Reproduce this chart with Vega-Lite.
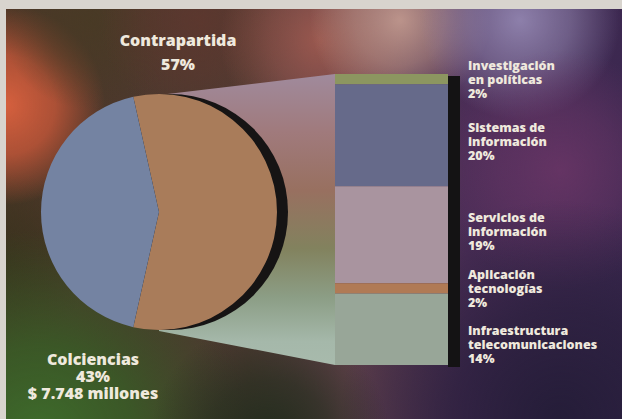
{
  "$schema": "https://vega.github.io/schema/vega-lite/v6.json",
  "width": 622,
  "height": 419,
  "autosize": {"type": "fit", "contains": "padding"},
  "padding": 0,
  "background": "#3a2a40",
  "config": {"view": {"stroke": null}, "text": {"font": "Open Sans", "fontWeight": 800, "color": "#efe9dd", "lineBreak": "\n", "baseline": "alphabetic"}},
  "resolve": {"scale": {"y": "independent", "color": "independent"}},
  "layer": [
    {
      "data": {"values": [{"capa": "fondo"}]},
      "mark": {"type": "rect", "fill": {"gradient": "linear", "x1": 0, "y1": 0, "x2": 1, "y2": 0, "stops": [
        {"offset": 0, "color": "#4a3626"}, {"offset": 0.4, "color": "#4e3a32"}, {"offset": 0.55, "color": "#5e4048"}, {"offset": 0.75, "color": "#4a2d56"}, {"offset": 1, "color": "#3c2850"}]}},
      "encoding": {
        "x": {"datum": 0, "type": "quantitative", "scale": {"domain": [0, 622], "nice": false, "zero": false}, "axis": null},
        "x2": {"datum": 622},
        "y": {"datum": 0, "type": "quantitative", "scale": {"domain": [0, 419], "reverse": true, "nice": false, "zero": false}, "axis": null},
        "y2": {"datum": 419}
      }
    },
    {
      "data": {"values": [{"capa": "oliva izquierda"}]},
      "mark": {"type": "rect", "clip": true, "fill": {"gradient": "radial", "x1": 0.5, "y1": 0.5, "r1": 0, "x2": 0.5, "y2": 0.5, "r2": 0.5, "stops": [
        {"offset": 0, "color": "rgba(55,50,28,0.85)"}, {"offset": 0.5, "color": "rgba(55,50,28,0.5)"}, {"offset": 1, "color": "rgba(55,50,28,0)"}]}},
      "encoding": {
        "x": {"datum": -90, "type": "quantitative", "scale": {"domain": [0, 622], "nice": false, "zero": false}, "axis": null},
        "x2": {"datum": 90},
        "y": {"datum": 170, "type": "quantitative", "scale": {"domain": [0, 419], "reverse": true, "nice": false, "zero": false}, "axis": null},
        "y2": {"datum": 350}
      }
    },
    {
      "data": {"values": [{"capa": "rojo"}]},
      "mark": {"type": "rect", "clip": true, "fill": {"gradient": "radial", "x1": 0.5, "y1": 0.5, "r1": 0, "x2": 0.5, "y2": 0.5, "r2": 0.5, "stops": [
        {"offset": 0, "color": "rgba(214,96,62,1)"}, {"offset": 0.5, "color": "rgba(200,88,58,0.78)"}, {"offset": 1, "color": "rgba(200,85,55,0)"}]}},
      "encoding": {
        "x": {"datum": -95, "type": "quantitative", "scale": {"domain": [0, 622], "nice": false, "zero": false}, "axis": null},
        "x2": {"datum": 105},
        "y": {"datum": 5, "type": "quantitative", "scale": {"domain": [0, 419], "reverse": true, "nice": false, "zero": false}, "axis": null},
        "y2": {"datum": 205}
      }
    },
    {
      "data": {"values": [{"capa": "oliva arriba"}]},
      "mark": {"type": "rect", "clip": true, "fill": {"gradient": "radial", "x1": 0.5, "y1": 0.5, "r1": 0, "x2": 0.5, "y2": 0.5, "r2": 0.5, "stops": [
        {"offset": 0, "color": "rgba(72,58,36,0.85)"}, {"offset": 0.5, "color": "rgba(72,58,36,0.5)"}, {"offset": 1, "color": "rgba(72,58,36,0)"}]}},
      "encoding": {
        "x": {"datum": 0, "type": "quantitative", "scale": {"domain": [0, 622], "nice": false, "zero": false}, "axis": null},
        "x2": {"datum": 180},
        "y": {"datum": -70, "type": "quantitative", "scale": {"domain": [0, 419], "reverse": true, "nice": false, "zero": false}, "axis": null},
        "y2": {"datum": 110}
      }
    },
    {
      "data": {"values": [{"capa": "granate"}]},
      "mark": {"type": "rect", "clip": true, "fill": {"gradient": "radial", "x1": 0.5, "y1": 0.5, "r1": 0, "x2": 0.5, "y2": 0.5, "r2": 0.5, "stops": [
        {"offset": 0, "color": "rgba(95,55,46,0.8)"}, {"offset": 0.5, "color": "rgba(95,55,46,0.5)"}, {"offset": 1, "color": "rgba(95,55,46,0)"}]}},
      "encoding": {
        "x": {"datum": 100, "type": "quantitative", "scale": {"domain": [0, 622], "nice": false, "zero": false}, "axis": null},
        "x2": {"datum": 300},
        "y": {"datum": -80, "type": "quantitative", "scale": {"domain": [0, 419], "reverse": true, "nice": false, "zero": false}, "axis": null},
        "y2": {"datum": 120}
      }
    },
    {
      "data": {"values": [{"capa": "rojizo"}]},
      "mark": {"type": "rect", "clip": true, "fill": {"gradient": "radial", "x1": 0.5, "y1": 0.5, "r1": 0, "x2": 0.5, "y2": 0.5, "r2": 0.5, "stops": [
        {"offset": 0, "color": "rgba(165,92,80,0.85)"}, {"offset": 0.5, "color": "rgba(160,90,80,0.5)"}, {"offset": 1, "color": "rgba(160,90,80,0)"}]}},
      "encoding": {
        "x": {"datum": 220, "type": "quantitative", "scale": {"domain": [0, 622], "nice": false, "zero": false}, "axis": null},
        "x2": {"datum": 420},
        "y": {"datum": -60, "type": "quantitative", "scale": {"domain": [0, 419], "reverse": true, "nice": false, "zero": false}, "axis": null},
        "y2": {"datum": 140}
      }
    },
    {
      "data": {"values": [{"capa": "rosa"}]},
      "mark": {"type": "rect", "clip": true, "fill": {"gradient": "radial", "x1": 0.5, "y1": 0.5, "r1": 0, "x2": 0.5, "y2": 0.5, "r2": 0.5, "stops": [
        {"offset": 0, "color": "rgba(192,152,142,0.95)"}, {"offset": 0.5, "color": "rgba(185,145,135,0.6)"}, {"offset": 1, "color": "rgba(185,145,135,0)"}]}},
      "encoding": {
        "x": {"datum": 310, "type": "quantitative", "scale": {"domain": [0, 622], "nice": false, "zero": false}, "axis": null},
        "x2": {"datum": 490},
        "y": {"datum": -70, "type": "quantitative", "scale": {"domain": [0, 419], "reverse": true, "nice": false, "zero": false}, "axis": null},
        "y2": {"datum": 110}
      }
    },
    {
      "data": {"values": [{"capa": "lavanda"}]},
      "mark": {"type": "rect", "clip": true, "fill": {"gradient": "radial", "x1": 0.5, "y1": 0.5, "r1": 0, "x2": 0.5, "y2": 0.5, "r2": 0.5, "stops": [
        {"offset": 0, "color": "rgba(145,132,175,0.95)"}, {"offset": 0.5, "color": "rgba(140,128,170,0.6)"}, {"offset": 1, "color": "rgba(140,128,170,0)"}]}},
      "encoding": {
        "x": {"datum": 420, "type": "quantitative", "scale": {"domain": [0, 622], "nice": false, "zero": false}, "axis": null},
        "x2": {"datum": 620},
        "y": {"datum": -80, "type": "quantitative", "scale": {"domain": [0, 419], "reverse": true, "nice": false, "zero": false}, "axis": null},
        "y2": {"datum": 120}
      }
    },
    {
      "data": {"values": [{"capa": "magenta"}]},
      "mark": {"type": "rect", "clip": true, "fill": {"gradient": "radial", "x1": 0.5, "y1": 0.5, "r1": 0, "x2": 0.5, "y2": 0.5, "r2": 0.5, "stops": [
        {"offset": 0, "color": "rgba(112,55,105,0.75)"}, {"offset": 0.5, "color": "rgba(110,55,105,0.45)"}, {"offset": 1, "color": "rgba(110,55,105,0)"}]}},
      "encoding": {
        "x": {"datum": 440, "type": "quantitative", "scale": {"domain": [0, 622], "nice": false, "zero": false}, "axis": null},
        "x2": {"datum": 680},
        "y": {"datum": 50, "type": "quantitative", "scale": {"domain": [0, 419], "reverse": true, "nice": false, "zero": false}, "axis": null},
        "y2": {"datum": 290}
      }
    },
    {
      "data": {"values": [{"capa": "purpura oscuro"}]},
      "mark": {"type": "rect", "clip": true, "fill": {"gradient": "radial", "x1": 0.5, "y1": 0.5, "r1": 0, "x2": 0.5, "y2": 0.5, "r2": 0.5, "stops": [
        {"offset": 0, "color": "rgba(35,28,55,0.95)"}, {"offset": 0.5, "color": "rgba(35,28,55,0.6)"}, {"offset": 1, "color": "rgba(35,28,55,0)"}]}},
      "encoding": {
        "x": {"datum": 340, "type": "quantitative", "scale": {"domain": [0, 622], "nice": false, "zero": false}, "axis": null},
        "x2": {"datum": 780},
        "y": {"datum": 200, "type": "quantitative", "scale": {"domain": [0, 419], "reverse": true, "nice": false, "zero": false}, "axis": null},
        "y2": {"datum": 640}
      }
    },
    {
      "data": {"values": [{"capa": "verde"}]},
      "mark": {"type": "rect", "clip": true, "fill": {"gradient": "radial", "x1": 0.5, "y1": 0.5, "r1": 0, "x2": 0.5, "y2": 0.5, "r2": 0.5, "stops": [
        {"offset": 0, "color": "rgba(62,110,44,1)"}, {"offset": 0.45, "color": "rgba(55,95,38,0.8)"}, {"offset": 1, "color": "rgba(50,85,35,0)"}]}},
      "encoding": {
        "x": {"datum": -170, "type": "quantitative", "scale": {"domain": [0, 622], "nice": false, "zero": false}, "axis": null},
        "x2": {"datum": 250},
        "y": {"datum": 230, "type": "quantitative", "scale": {"domain": [0, 419], "reverse": true, "nice": false, "zero": false}, "axis": null},
        "y2": {"datum": 650}
      }
    },
    {
      "data": {"values": [{"capa": "verde oscuro"}]},
      "mark": {"type": "rect", "clip": true, "fill": {"gradient": "radial", "x1": 0.5, "y1": 0.5, "r1": 0, "x2": 0.5, "y2": 0.5, "r2": 0.5, "stops": [
        {"offset": 0, "color": "rgba(32,44,28,0.95)"}, {"offset": 0.5, "color": "rgba(32,44,28,0.6)"}, {"offset": 1, "color": "rgba(32,44,28,0)"}]}},
      "encoding": {
        "x": {"datum": 150, "type": "quantitative", "scale": {"domain": [0, 622], "nice": false, "zero": false}, "axis": null},
        "x2": {"datum": 390},
        "y": {"datum": 320, "type": "quantitative", "scale": {"domain": [0, 419], "reverse": true, "nice": false, "zero": false}, "axis": null},
        "y2": {"datum": 560}
      }
    },
    {
      "data": {"values": [{"capa": "borde"}]},
      "mark": {"type": "rect", "fill": "#d8d4ce"},
      "encoding": {
        "x": {"datum": 0, "type": "quantitative", "scale": {"domain": [0, 622], "nice": false, "zero": false}, "axis": null},
        "x2": {"datum": 622},
        "y": {"datum": 0, "type": "quantitative", "scale": {"domain": [0, 419], "reverse": true, "nice": false, "zero": false}, "axis": null},
        "y2": {"datum": 9}
      }
    },
    {
      "data": {"values": [{"capa": "borde"}]},
      "mark": {"type": "rect", "fill": "#d8d4ce"},
      "encoding": {
        "x": {"datum": 0, "type": "quantitative", "scale": {"domain": [0, 622], "nice": false, "zero": false}, "axis": null},
        "x2": {"datum": 6},
        "y": {"datum": 0, "type": "quantitative", "scale": {"domain": [0, 419], "reverse": true, "nice": false, "zero": false}, "axis": null},
        "y2": {"datum": 419}
      }
    },
    {
      "data": {"values": [{"extremo": "torta", "x": 159, "arriba": 95, "abajo": 331}, {"extremo": "barra", "x": 335, "arriba": 74, "abajo": 365}]},
      "mark": {"type": "area", "orient": "vertical", "fill": {"gradient": "linear", "x1": 0, "y1": 0, "x2": 0, "y2": 1, "stops": [
        {"offset": 0, "color": "#a08a9c"}, {"offset": 0.2, "color": "#a07a7c"}, {"offset": 0.4, "color": "#987060"}, {"offset": 0.6, "color": "#82825e"}, {"offset": 0.77, "color": "#8c9e86"}, {"offset": 0.92, "color": "#a5b8aa"}, {"offset": 1, "color": "#a8baac"}]}},
      "encoding": {
        "x": {"field": "x", "type": "quantitative", "scale": {"domain": [0, 622], "nice": false, "zero": false}, "axis": null},
        "y": {"field": "arriba", "type": "quantitative", "scale": {"domain": [0, 419], "reverse": true, "nice": false, "zero": false}, "axis": null},
        "y2": {"field": "abajo"}
      }
    },
    {
      "data": {"values": [{"capa": "sombra"}]},
      "mark": {"type": "arc", "outerRadius": 118, "theta": 0, "theta2": 6.2832, "fill": "#161414"},
      "encoding": {
        "x": {"datum": 170, "type": "quantitative", "scale": {"domain": [0, 622], "nice": false, "zero": false}, "axis": null},
        "y": {"datum": 212, "type": "quantitative", "scale": {"domain": [0, 419], "reverse": true, "nice": false, "zero": false}, "axis": null}
      }
    },
    {
      "data": {"values": [{"fuente": "Contrapartida", "pct": 57, "orden": 1}, {"fuente": "Colciencias", "pct": 43, "orden": 2}]},
      "mark": {"type": "arc", "outerRadius": 118},
      "encoding": {
        "theta": {"field": "pct", "type": "quantitative", "stack": true, "scale": {"range": [-0.2199, 6.0633]}},
        "order": {"field": "orden", "type": "quantitative"},
        "color": {"field": "fuente", "type": "nominal", "scale": {"domain": ["Contrapartida", "Colciencias"], "range": ["#a97c5a", "#7483a2"]}, "legend": null},
        "x": {"datum": 159, "type": "quantitative", "scale": {"domain": [0, 622], "nice": false, "zero": false}, "axis": null},
        "y": {"datum": 212, "type": "quantitative", "scale": {"domain": [0, 419], "reverse": true, "nice": false, "zero": false}, "axis": null}
      }
    },
    {
      "data": {"values": [{"capa": "sombra barra"}]},
      "mark": {"type": "rect", "fill": "#141314"},
      "encoding": {
        "x": {"datum": 448, "type": "quantitative", "scale": {"domain": [0, 622], "nice": false, "zero": false}, "axis": null},
        "x2": {"datum": 460},
        "y": {"datum": 76, "type": "quantitative", "scale": {"domain": [0, 419], "reverse": true, "nice": false, "zero": false}, "axis": null},
        "y2": {"datum": 367}
      }
    },
    {
      "data": {"values": [
        {"rubro": "Investigación en políticas", "pct": 2, "orden": 1},
        {"rubro": "Sistemas de información", "pct": 20, "orden": 2},
        {"rubro": "Servicios de información", "pct": 19, "orden": 3},
        {"rubro": "Aplicación tecnologías", "pct": 2, "orden": 4},
        {"rubro": "Infraestructura telecomunicaciones", "pct": 14, "orden": 5}
      ]},
      "transform": [{"stack": "pct", "groupby": [], "sort": [{"field": "orden", "order": "ascending"}], "as": ["p0", "p1"]}],
      "mark": {"type": "rect"},
      "encoding": {
        "x": {"datum": 335, "type": "quantitative", "scale": {"domain": [0, 622], "nice": false, "zero": false}, "axis": null},
        "x2": {"datum": 448},
        "y": {"field": "p0", "type": "quantitative", "scale": {"domain": [0, 57], "range": [74, 365], "nice": false, "zero": false}, "axis": null},
        "y2": {"field": "p1"},
        "color": {"field": "rubro", "type": "nominal", "scale": {
          "domain": ["Investigación en políticas", "Sistemas de información", "Servicios de información", "Aplicación tecnologías", "Infraestructura telecomunicaciones"],
          "range": ["#8c9660", "#666a8a", "#a9949f", "#b07a55", "#98a698"]}, "legend": null}
      }
    },
    {
      "data": {"values": [{"texto": "Contrapartida\n57%"}]},
      "mark": {"type": "text", "fontSize": 16, "lineHeight": 24, "align": "center"},
      "encoding": {
        "text": {"field": "texto", "type": "nominal"},
        "x": {"datum": 178, "type": "quantitative", "scale": {"domain": [0, 622], "nice": false, "zero": false}, "axis": null},
        "y": {"datum": 46, "type": "quantitative", "scale": {"domain": [0, 419], "reverse": true, "nice": false, "zero": false}, "axis": null}
      }
    },
    {
      "data": {"values": [{"texto": "Colciencias\n43%\n$ 7.748 millones"}]},
      "mark": {"type": "text", "fontSize": 16, "lineHeight": 17, "align": "center"},
      "encoding": {
        "text": {"field": "texto", "type": "nominal"},
        "x": {"datum": 93, "type": "quantitative", "scale": {"domain": [0, 622], "nice": false, "zero": false}, "axis": null},
        "y": {"datum": 365, "type": "quantitative", "scale": {"domain": [0, 419], "reverse": true, "nice": false, "zero": false}, "axis": null}
      }
    },
    {
      "data": {"values": [{"texto": "Investigación\nen políticas\n2%"}]},
      "mark": {"type": "text", "fontSize": 12.5, "lineHeight": 14, "align": "left"},
      "encoding": {
        "text": {"field": "texto", "type": "nominal"},
        "x": {"datum": 468, "type": "quantitative", "scale": {"domain": [0, 622], "nice": false, "zero": false}, "axis": null},
        "y": {"datum": 70, "type": "quantitative", "scale": {"domain": [0, 419], "reverse": true, "nice": false, "zero": false}, "axis": null}
      }
    },
    {
      "data": {"values": [{"texto": "Sistemas de\ninformación\n20%"}]},
      "mark": {"type": "text", "fontSize": 12.5, "lineHeight": 14, "align": "left"},
      "encoding": {
        "text": {"field": "texto", "type": "nominal"},
        "x": {"datum": 468, "type": "quantitative", "scale": {"domain": [0, 622], "nice": false, "zero": false}, "axis": null},
        "y": {"datum": 132, "type": "quantitative", "scale": {"domain": [0, 419], "reverse": true, "nice": false, "zero": false}, "axis": null}
      }
    },
    {
      "data": {"values": [{"texto": "Servicios de\ninformación\n19%"}]},
      "mark": {"type": "text", "fontSize": 12.5, "lineHeight": 14, "align": "left"},
      "encoding": {
        "text": {"field": "texto", "type": "nominal"},
        "x": {"datum": 468, "type": "quantitative", "scale": {"domain": [0, 622], "nice": false, "zero": false}, "axis": null},
        "y": {"datum": 222, "type": "quantitative", "scale": {"domain": [0, 419], "reverse": true, "nice": false, "zero": false}, "axis": null}
      }
    },
    {
      "data": {"values": [{"texto": "Aplicación\ntecnologías\n2%"}]},
      "mark": {"type": "text", "fontSize": 12.5, "lineHeight": 14, "align": "left"},
      "encoding": {
        "text": {"field": "texto", "type": "nominal"},
        "x": {"datum": 468, "type": "quantitative", "scale": {"domain": [0, 622], "nice": false, "zero": false}, "axis": null},
        "y": {"datum": 279, "type": "quantitative", "scale": {"domain": [0, 419], "reverse": true, "nice": false, "zero": false}, "axis": null}
      }
    },
    {
      "data": {"values": [{"texto": "Infraestructura\ntelecomunicaciones\n14%"}]},
      "mark": {"type": "text", "fontSize": 12.5, "lineHeight": 14, "align": "left"},
      "encoding": {
        "text": {"field": "texto", "type": "nominal"},
        "x": {"datum": 468, "type": "quantitative", "scale": {"domain": [0, 622], "nice": false, "zero": false}, "axis": null},
        "y": {"datum": 335, "type": "quantitative", "scale": {"domain": [0, 419], "reverse": true, "nice": false, "zero": false}, "axis": null}
      }
    }
  ]
}
